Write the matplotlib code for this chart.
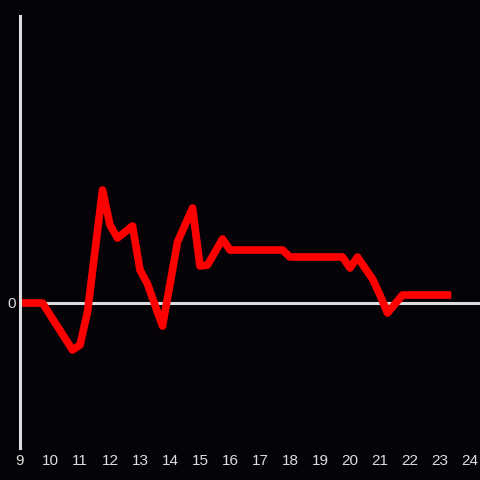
import numpy as np
import matplotlib.pyplot as plt

# hours (decimal) and values
hours = [9.0, 9.75, 10.75, 11.0, 11.25, 11.75, 12.0, 12.25, 12.75, 13.0,
         13.25, 13.75, 14.25, 14.75, 15.0, 15.25, 15.75, 16.0, 17.75, 18.0,
         19.75, 20.0, 20.25, 20.75, 21.0, 21.25, 21.75, 23.25]
values = [0, 0, -47, -42, -9, 113, 78, 65, 77, 33,
          19, -23, 61, 95, 37, 38, 64, 53, 53, 46,
          46, 35, 46, 24, 8, -10, 8, 8]
xticks = list(range(9, 25))

bg = '#050307'
fg = '#dddddd'

fig = plt.figure(figsize=(4.8, 4.8), dpi=100, facecolor=bg)
ax = fig.add_axes([20/480, 32/480, 460/480, 432/480], facecolor=bg)

ax.axhline(0, color=fg, lw=2.2, zorder=1)
ax.plot(hours, values, color='#ff0000', lw=5.5, zorder=2)

ax.set_xlim(9, 9 + 460/30)
ax.set_ylim(-145, 287)

for s in ['top', 'right', 'bottom']:
    ax.spines[s].set_visible(False)
ax.spines['left'].set_color(fg)
ax.spines['left'].set_linewidth(2.2)

ax.set_xticks(xticks)
ax.set_xticklabels([str(t) for t in xticks])
ax.set_yticks([0])
ax.set_yticklabels(['0'])
ax.tick_params(axis='both', length=0, colors=fg, labelsize=11)
ax.tick_params(axis='x', pad=4)
ax.tick_params(axis='y', pad=3)
for lbl in ax.get_xticklabels() + ax.get_yticklabels():
    lbl.set_fontfamily('Liberation Sans')

fig.savefig('out.png', dpi=100, facecolor=bg)
